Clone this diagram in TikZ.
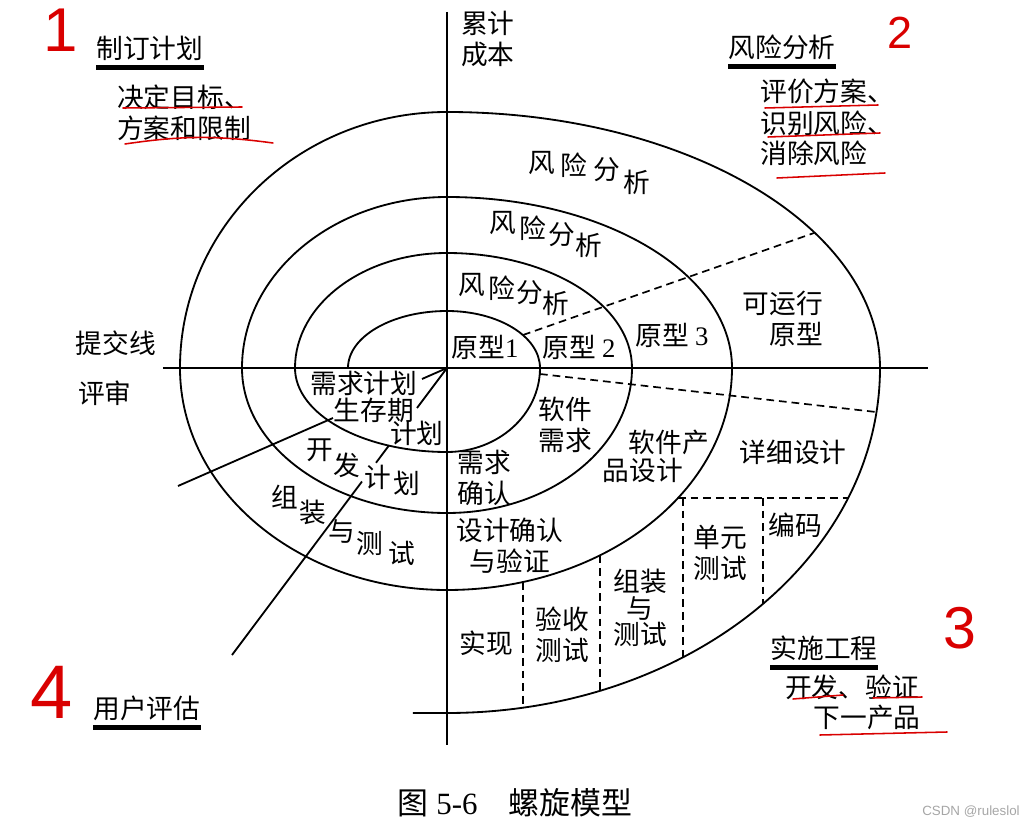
\documentclass[tikz,border=0pt]{standalone}
\usepackage{fontspec}
\setmainfont{Liberation Serif}
\newfontfamily\cjk{Noto Sans CJK SC}
\newfontfamily\handfont{Liberation Sans}
\newcommand\numrm[1]{{\rmfamily #1}}

\tikzset{
  lbl/.style={font=\cjk\fontsize{19}{22}\selectfont, inner sep=0pt, align=center},
  spiral/.style={line width=1.3pt},
  axisline/.style={line width=1.8pt},
  dashline/.style={line width=1.2pt, dash pattern=on 5.5pt off 3.5pt},
  headbar/.style={line width=3.5pt},
  redmark/.style={draw=red!85!black, line width=1.1pt, line cap=round},
  handnum/.style={text=red!85!black, font=\handfont\fontsize{#1}{#1}\selectfont, inner sep=0pt},
}

\begin{document}
\begin{tikzpicture}[x=0.025cm, y=0.025cm]
  \useasboundingbox (-447,-460) rectangle (585,368);
  \coordinate (O) at (0,0);

  % axes
  \draw[axisline] (-284,0) -- (481,0);
  \draw[axisline] (0,356) -- (0,-377);

  % the spiral, one quarter ellipse at a time
  \draw[spiral] (-99,0)
    arc[start angle=180, end angle=90, x radius=99, y radius=57]
    arc[start angle=90, end angle=0, x radius=93, y radius=57]
    arc[start angle=0, end angle=-90, x radius=93, y radius=84]
    arc[start angle=-90, end angle=-180, x radius=152, y radius=84]
    arc[start angle=180, end angle=90, x radius=152, y radius=115]
    arc[start angle=90, end angle=0, x radius=185, y radius=115]
    arc[start angle=0, end angle=-90, x radius=185, y radius=145]
    arc[start angle=-90, end angle=-180, x radius=205, y radius=145]
    arc[start angle=180, end angle=90, x radius=205, y radius=171]
    arc[start angle=90, end angle=0, x radius=285, y radius=171]
    arc[start angle=0, end angle=-90, x radius=285, y radius=222]
    arc[start angle=-90, end angle=-180, x radius=267, y radius=222]
    arc[start angle=180, end angle=90, x radius=267, y radius=256]
    arc[start angle=90, end angle=0, x radius=433, y radius=256]
    arc[start angle=0, end angle=-90, x radius=433, y radius=345]
    -- (-34,-345);

  % dashed partitions
  \draw[dashline] (76,33) -- (367,135);
  \draw[dashline] (93,-6) -- (429,-44);
  \draw[dashline] (231,-130) -- (401,-130);
  \foreach \xx in {76,153}
    \draw[dashline] (\xx,{-222*sqrt(1-(\xx/285)^2)}) -- (\xx,{-345*sqrt(1-(\xx/433)^2)});
  \foreach \xx in {236,316}
    \draw[dashline] (\xx,-130) -- (\xx,{-345*sqrt(1-(\xx/433)^2)});

  % review lines (broken where the labels sit)
  \draw[spiral] (O) -- (-25,-11);
  \draw[spiral] (-114,-50) -- (-269,-118);
  \draw[spiral] (O) -- (-30,-40);
  \draw[spiral] (-58,-77.4) -- (-71,-94.8);
  \draw[spiral] (-85,-113.5) -- (-215,-287);

  % quadrant headings
  \node[lbl] (plan) at (-297,320) {制订计划};
  \draw[headbar] ([yshift=-5pt]plan.south west) -- ([yshift=-5pt]plan.south east);
  \node[lbl, anchor=west] (plan1) at (-330,271) {决定目标、};
  \node[lbl, anchor=west] (plan2) at (-330,240) {方案和限制};

  \node[lbl] (risk) at (335,321) {风险分析};
  \draw[headbar] ([yshift=-5pt]risk.south west) -- ([yshift=-5pt]risk.south east);
  \node[lbl, anchor=west] (risk1) at (313,277) {评价方案、};
  \node[lbl, anchor=west] (risk2) at (313,245) {识别风险、};
  \node[lbl, anchor=west] (risk3) at (313,215) {消除风险};

  \node[lbl] (user) at (-300,-340) {用户评估};
  \draw[headbar] ([yshift=-5pt]user.south west) -- ([yshift=-5pt]user.south east);

  \node[lbl] (eng) at (377,-280) {实施工程};
  \draw[headbar] ([yshift=-5pt]eng.south west) -- ([yshift=-5pt]eng.south east);
  \node[lbl] (eng1) at (405,-319) {开发、验证};
  \node[lbl] (eng2) at (420,-349) {下一产品};

  % axis labels
  \node[lbl, anchor=west] (cost) at (14,329) {累计\\成本};
  \node[lbl] (commit) at (-331,25) {提交线};
  \node[lbl] (review) at (-342,-25) {评审};

  % risk analysis, set along the arcs
  \foreach \ch/\px/\py [count=\k] in {风/95/205, 险/127/203, 分/160/198, 析/190/186}
    \node[lbl] (riskA\k) at (\px,\py) {\ch};
  \foreach \ch/\px/\py [count=\k] in {风/56/145, 险/86/140, 分/115/133, 析/142/123}
    \node[lbl] (riskB\k) at (\px,\py) {\ch};
  \foreach \ch/\px/\py [count=\k] in {风/25/83, 险/55/80, 分/83/75, 析/109/65}
    \node[lbl] (riskC\k) at (\px,\py) {\ch};

  % prototypes
  \node[lbl] (proto1) at (38,21) {原型\numrm{1}};
  \node[lbl] (proto2) at (132,21) {原型 \numrm{2}};
  \node[lbl] (proto3) at (225,33) {原型 \numrm{3}};
  \node[lbl, align=right, anchor=east] (protoR) at (376,49) {可运行\\原型};

  % engineering quadrant
  \node[lbl] (swreq) at (118,-57) {软件\\需求};
  \node[lbl] (prod1) at (222,-74) {软件产};
  \node[lbl] (prod2) at (196,-102) {品设计};
  \node[lbl] (detail) at (346,-84) {详细设计};
  \node[lbl] (reqok) at (37,-110) {需求\\确认};
  \node[lbl] (desok) at (63,-178) {设计确认\\与验证};
  \node[lbl] (code) at (348,-157) {编码};
  \node[lbl] (unit) at (273,-185) {单元\\测试};
  \node[lbl] (integ) at (193,-240) {组装\\[-3pt]与\\[-3pt]测试};
  \node[lbl] (impl) at (39,-275) {实现};
  \node[lbl] (accept) at (115,-267) {验收\\测试};

  % planning quadrant
  \node[lbl] (reqplan) at (-83,-15) {需求计划};
  \node[lbl] (life1) at (-73,-42) {生存期};
  \node[lbl] (life2) at (-30,-65) {计划};
  \foreach \ch/\px/\py [count=\k] in {开/-127/-82, 发/-100/-97, 计/-69/-109, 划/-40/-115}
    \node[lbl] (dev\k) at (\px,\py) {\ch};
  \foreach \ch/\px/\py [count=\k] in {组/-162/-129, 装/-134/-144, 与/-105/-164, 测/-77/-175, 试/-45/-185}
    \node[lbl] (test\k) at (\px,\py) {\ch};

  % caption and watermark
  \node[font=\fontsize{22}{26}\selectfont, inner sep=0pt] (cap) at (68,-435) {{\cjk 图}~5-6\quad{\cjk 螺旋模型}};
  \node[text=gray!70, font=\handfont\fontsize{9.5}{11}\selectfont, inner sep=0pt] (mark) at (524,-444) {CSDN @ruleslol};

  % red hand annotations
  \node[handnum=44] (n1) at (-386,338) {1};
  \node[handnum=32] (n2) at (453,335) {2};
  \node[handnum=42] (n3) at (513,-260) {3};
  \node[handnum=54] (n4) at (-395,-324) {4};
  \draw[redmark] (-324,260) -- (-205,261);
  \draw[redmark] (-322,224) to[bend left=8] (-174,225);
  \draw[redmark] (318,260) -- (431,263);
  \draw[redmark] (321,231) -- (433,235);
  \draw[redmark] (330,190) -- (438,195);
  \draw[redmark] (346,-331) -- (396,-327);
  \draw[redmark] (426,-330) -- (475,-329);
  \draw[redmark] (373,-367) -- (500,-364);
\end{tikzpicture}
\end{document}
